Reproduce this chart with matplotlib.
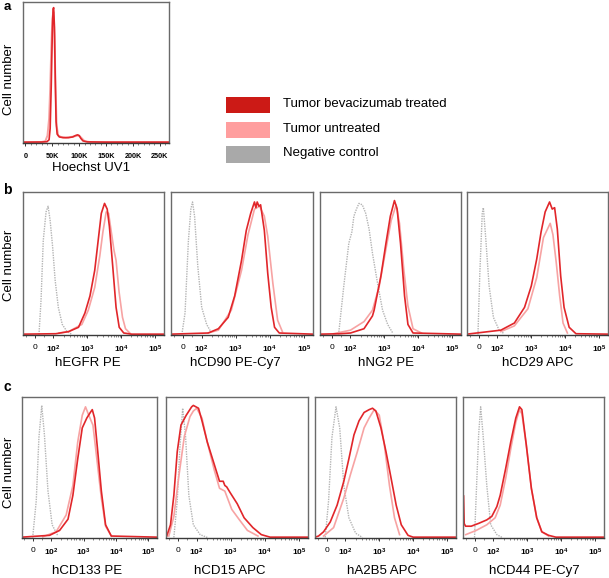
import matplotlib
matplotlib.use('Agg')
import matplotlib.pyplot as plt
from matplotlib.patches import Rectangle
from matplotlib.ticker import FixedLocator, FixedFormatter, NullFormatter

plt.rcParams['font.family'] = ['Liberation Sans', 'DejaVu Sans']
plt.rcParams['mathtext.fontset'] = 'custom'
plt.rcParams['mathtext.rm'] = 'Liberation Sans:bold'
plt.rcParams['mathtext.it'] = 'Liberation Sans:bold'
plt.rcParams['mathtext.bf'] = 'Liberation Sans:bold'

# ---------------- data ----------------
legend_labels = ['Tumor bevacizumab treated', 'Tumor untreated', 'Negative control']

# panel a: Hoechst UV1 (x in K)
hoechst_ticks = [0, 50, 100, 150, 200, 250]
hoechst_ticklabels = ['0', '50K', '100K', '150K', '200K', '250K']
hoechst_treated_x = [-5, 30, 40, 44, 46, 48, 50, 51.5, 52.5, 54, 55.5, 57, 59, 63, 70, 80, 88, 93, 97, 100, 103, 107, 115, 150, 267]
hoechst_treated_y = [0.003, 0.004, 0.006, 0.02, 0.1, 0.4, 0.78, 0.95, 0.96, 0.82, 0.45, 0.15, 0.06, 0.04, 0.035, 0.035, 0.04, 0.05, 0.055, 0.05, 0.03, 0.012, 0.005, 0.003, 0.003]
hoechst_untreated_x = [-5, 30, 37, 41, 44, 46, 48, 50, 52, 54, 56, 58, 61, 66, 75, 85, 92, 97, 101, 105, 110, 120, 267]
hoechst_untreated_y = [0.003, 0.004, 0.01, 0.05, 0.17, 0.38, 0.66, 0.88, 0.93, 0.76, 0.4, 0.12, 0.05, 0.04, 0.035, 0.04, 0.045, 0.05, 0.045, 0.03, 0.01, 0.004, 0.003]

# fluorescence axis
fluor_ticks = [0, 1e2, 1e3, 1e4, 1e5]
fluor_ticklabels = ['0', '$10^{2}$', '$10^{3}$', '$10^{4}$', '$10^{5}$']

# panel b
egfr_neg_x = [22, 33, 45, 60, 71, 82, 95, 112, 139, 182, 252, 355]
egfr_neg_y = [0, 0.24, 0.66, 0.86, 0.90, 0.80, 0.62, 0.38, 0.19, 0.07, 0.02, 0.0]
egfr_trt_x = [-64, 117, 282, 550, 850, 1200, 1660, 2100, 2600, 3240, 3880, 4500, 5650, 7100, 8800, 12000, 20000, 186000]
egfr_trt_y = [0.002, 0.005, 0.02, 0.05, 0.15, 0.27, 0.45, 0.66, 0.85, 0.92, 0.88, 0.76, 0.48, 0.19, 0.05, 0.01, 0.002, 0.002]
egfr_unt_x = [146, 282, 398, 690, 1070, 1660, 2340, 2900, 3630, 4270, 5130, 6170, 7100, 8700, 11000, 13500, 19000]
egfr_unt_y = [0.01, 0.02, 0.04, 0.07, 0.17, 0.33, 0.55, 0.72, 0.86, 0.85, 0.72, 0.59, 0.52, 0.30, 0.12, 0.04, 0.005]

cd90_neg_x = [-6, 11, 29, 42, 51, 62, 79, 100, 140, 195]
cd90_neg_y = [0, 0.15, 0.66, 0.88, 0.93, 0.83, 0.48, 0.19, 0.07, 0.01]
cd90_trt_x = [-64, 155, 309, 600, 930, 1480, 2040, 2750, 3550, 3900, 4270, 4800, 5370, 6920, 8700, 11000, 13800, 19000, 186000]
cd90_trt_y = [0.002, 0.01, 0.04, 0.12, 0.27, 0.52, 0.73, 0.85, 0.93, 0.89, 0.93, 0.90, 0.91, 0.73, 0.43, 0.19, 0.05, 0.01, 0.002]
cd90_unt_x = [155, 309, 740, 1480, 2290, 3550, 5010, 6920, 8700, 12300, 17000, 23400]
cd90_unt_y = [0.01, 0.03, 0.17, 0.45, 0.70, 0.88, 0.90, 0.83, 0.69, 0.36, 0.10, 0.02]

ng2_neg_x = [36, 64, 91, 110, 126, 150, 178, 224, 282, 355, 447, 631, 890, 1260, 1780]
ng2_neg_y = [0, 0.34, 0.64, 0.72, 0.83, 0.88, 0.92, 0.91, 0.85, 0.74, 0.57, 0.36, 0.17, 0.07, 0.01]
ng2_trt_x = [-64, 45, 100, 251, 447, 500, 794, 1120, 1510, 2000, 2400, 3020, 3980, 5010, 7080, 186000]
ng2_trt_y = [0.002, 0.005, 0.01, 0.04, 0.13, 0.17, 0.41, 0.64, 0.83, 0.94, 0.88, 0.64, 0.27, 0.07, 0.01, 0.002]
ng2_unt_x = [9, 100, 251, 447, 710, 1120, 1600, 2240, 2820, 3800, 5010, 7080, 12600]
ng2_unt_y = [0.005, 0.03, 0.09, 0.17, 0.34, 0.60, 0.80, 0.91, 0.78, 0.45, 0.20, 0.04, 0.01]

cd29_neg_x = [-5, 5, 18, 24, 36, 55, 78, 112, 158]
cd29_neg_y = [0, 0.43, 0.85, 0.89, 0.69, 0.34, 0.12, 0.03, 0.005]
cd29_trt_x = [-64, 126, 316, 631, 1000, 1450, 1950, 2570, 3470, 4170, 4900, 5890, 7410, 9330, 13200, 21000, 186000]
cd29_trt_y = [0.002, 0.03, 0.08, 0.19, 0.34, 0.53, 0.72, 0.86, 0.93, 0.88, 0.89, 0.74, 0.41, 0.19, 0.05, 0.005, 0.002]
cd29_unt_x = [126, 316, 794, 1450, 2290, 2880, 3630, 4370, 5500, 6920, 8700, 11700]
cd29_unt_y = [0.02, 0.06, 0.18, 0.40, 0.68, 0.73, 0.78, 0.70, 0.50, 0.27, 0.08, 0.01]

# panel c
cd133_neg_x = [-4, 16, 31, 47, 62, 82, 107, 162]
cd133_neg_y = [0, 0.26, 0.71, 0.94, 0.73, 0.33, 0.09, 0.01]
cd133_trt_x = [-64, 91, 182, 331, 468, 661, 912, 1260, 1620, 1860, 2190, 2750, 3550, 4790, 7200, 186000]
cd133_trt_y = [0.002, 0.015, 0.05, 0.13, 0.30, 0.56, 0.78, 0.85, 0.89, 0.91, 0.85, 0.61, 0.33, 0.09, 0.01, 0.002]
cd133_unt_x = [53, 142, 290, 468, 661, 912, 1150, 1450, 1950, 2570, 3550, 4790, 7200]
cd133_unt_y = [0.005, 0.04, 0.16, 0.37, 0.68, 0.87, 0.93, 0.87, 0.80, 0.56, 0.28, 0.08, 0.01]

cd15_neg_x = [-22, -4, 9, 25, 40, 58, 82, 126, 204]
cd15_neg_y = [0, 0.26, 0.61, 0.92, 0.73, 0.30, 0.09, 0.02, 0]
cd15_trt_x = [-60, -40, -22, -4, 16, 44, 73, 82, 113, 143, 204, 328, 468, 600, 670, 760, 955, 1550, 2470, 4470, 7900, 14300, 186000]
cd15_trt_y = [0.01, 0.09, 0.30, 0.61, 0.80, 0.87, 0.93, 0.94, 0.92, 0.83, 0.68, 0.52, 0.40, 0.40, 0.37, 0.36, 0.32, 0.24, 0.14, 0.07, 0.02, 0.002, 0.002]
cd15_unt_x = [-49, -22, 6, 34, 64, 82, 100, 143, 204, 328, 468, 670, 1070, 1740, 3090, 6310]
cd15_unt_y = [0.01, 0.15, 0.45, 0.72, 0.86, 0.90, 0.92, 0.85, 0.68, 0.48, 0.35, 0.33, 0.20, 0.13, 0.05, 0.01]

a2b5_neg_x = [-9, 9, 27, 49, 69, 91, 126, 200, 316]
a2b5_neg_y = [0, 0.26, 0.71, 0.93, 0.78, 0.37, 0.14, 0.03, 0]
a2b5_trt_x = [-64, -45, -18, 18, 55, 91, 126, 178, 251, 355, 501, 631, 794, 1120, 1580, 2240, 3160, 4470, 7080, 10000, 186000]
a2b5_trt_y = [0.002, 0.01, 0.04, 0.11, 0.23, 0.40, 0.56, 0.73, 0.83, 0.89, 0.91, 0.92, 0.90, 0.78, 0.61, 0.42, 0.23, 0.09, 0.015, 0.002, 0.002]
a2b5_unt_x = [-18, 36, 91, 141, 224, 355, 501, 708, 1000, 1410, 2000, 2820, 3980]
a2b5_unt_y = [0.01, 0.07, 0.28, 0.45, 0.61, 0.78, 0.85, 0.91, 0.87, 0.66, 0.37, 0.14, 0.02]

cd44_neg_x = [-2, 7, 20, 31, 44, 64, 85, 126, 180]
cd44_neg_y = [0, 0.30, 0.73, 0.93, 0.73, 0.37, 0.09, 0.02, 0]
cd44_trt_x = [-63, -62, -58, -50, -20, 20, 64, 91, 126, 158, 229, 324, 457, 589, 692, 933, 1320, 1900, 2690, 4270, 7000, 186000]
cd44_trt_y = [0.0, 0.30, 0.10, 0.08, 0.08, 0.10, 0.125, 0.15, 0.22, 0.30, 0.49, 0.68, 0.85, 0.93, 0.91, 0.66, 0.35, 0.14, 0.04, 0.015, 0.002, 0.002]
cd44_unt_x = [-49, 7, 64, 112, 158, 229, 324, 457, 589, 692, 933, 1320, 1900, 2690, 4270]
cd44_unt_y = [0.02, 0.05, 0.09, 0.14, 0.23, 0.42, 0.63, 0.82, 0.91, 0.88, 0.66, 0.35, 0.14, 0.04, 0.01]

marker_labels_b = ['hEGFR PE', 'hCD90 PE-Cy7', 'hNG2 PE', 'hCD29 APC']
marker_labels_c = ['hCD133 PE', 'hCD15 APC', 'hA2B5 APC', 'hCD44 PE-Cy7']

# ---------------- style ----------------
RED = '#e1262a'
PINK = '#f7a3a3'
GRAY = '#b4b4b4'
LEG_COLORS = ['#cc1a16', '#ff9e9e', '#a9a9a9']
FRAME = '#6a6a6a'

W, H = 609, 578
fig = plt.figure(figsize=(W / 100, H / 100), dpi=100)


def add_ax(x0, x1, y0, y1):
    return fig.add_axes([x0 / W, 1 - y1 / H, (x1 - x0) / W, (y1 - y0) / H])


def style_frame(ax):
    for s in ax.spines.values():
        s.set_color(FRAME)
        s.set_linewidth(1.0)
    ax.spines['bottom'].set_color('#3a3a3a')
    ax.set_yticks([])
    ax.tick_params(axis='x', which='major', direction='out', length=2.5, width=0.7,
                   color='#333333', labelsize=6, pad=4)
    ax.tick_params(axis='x', which='minor', direction='out', length=1.5, width=0.5,
                   color='#555555')


# panel a
ax = add_ax(23, 169, 2, 143)
ax.plot(hoechst_untreated_x, hoechst_untreated_y, color=PINK, lw=1.4)
ax.plot(hoechst_treated_x, hoechst_treated_y, color=RED, lw=1.2)
ax.set_xlim(-4.5, 267)
ax.set_ylim(-0.003, 1.0)
style_frame(ax)
ax.xaxis.set_major_locator(FixedLocator(hoechst_ticks))
ax.xaxis.set_major_formatter(FixedFormatter(hoechst_ticklabels))
ax.xaxis.set_minor_locator(FixedLocator([v for v in range(0, 261, 10)]))
ax.tick_params(axis='x', labelsize=5.2, pad=5)
for lab in ax.get_xticklabels():
    lab.set_fontweight('bold')

fig.text(4 / W, 1 - 1 / H, 'a', fontsize=9.5, fontweight='bold', va='top', ha='left')
fig.text(9.5 / W, 1 - 79 / H, 'Cell number', fontsize=9.5, rotation=90, va='center', ha='center')
fig.text(91 / W, 1 - 168 / H, 'Hoechst UV1', fontsize=9.5, va='center', ha='center')

# legend
leg_rows = [(97, 113, 104), (122, 138, 129), (146, 163, 153)]
for (y0, y1, yc), col, lab in zip(leg_rows, LEG_COLORS, legend_labels):
    fig.patches.append(Rectangle((226 / W, 1 - y1 / H), 44 / W, (y1 - y0) / H,
                                 transform=fig.transFigure, facecolor=col, edgecolor='none'))
    fig.text(283 / W, 1 - yc / H, lab, fontsize=9.5, va='center', ha='left')

minor_fluor = [-50, 50] + [k * 10 ** d for d in (2, 3, 4) for k in range(2, 10)]


def fluor_panel(box, neg, unt, trt):
    ax = add_ax(*box)
    ax.plot(neg[0], neg[1], color=GRAY, lw=1.0, ls=(0, (1, 0.8)))
    ax.plot(unt[0], unt[1], color=PINK, lw=1.2)
    ax.plot(trt[0], trt[1], color=RED, lw=1.2)
    ax.set_xscale('symlog', linthresh=100, linscale=0.495)
    ax.set_xlim(-64, 186000)
    ax.set_ylim(-0.004, 1.0)
    style_frame(ax)
    ax.xaxis.set_major_locator(FixedLocator(fluor_ticks))
    ax.xaxis.set_major_formatter(FixedFormatter(fluor_ticklabels))
    ax.xaxis.set_minor_locator(FixedLocator(minor_fluor))
    ax.xaxis.set_minor_formatter(NullFormatter())
    return ax


b_boxes = [(23, 164, 192, 335), (171, 313, 192, 335), (320, 461, 192, 335), (467, 608, 192, 335)]
b_data = [
    ((egfr_neg_x, egfr_neg_y), (egfr_unt_x, egfr_unt_y), (egfr_trt_x, egfr_trt_y)),
    ((cd90_neg_x, cd90_neg_y), (cd90_unt_x, cd90_unt_y), (cd90_trt_x, cd90_trt_y)),
    ((ng2_neg_x, ng2_neg_y), (ng2_unt_x, ng2_unt_y), (ng2_trt_x, ng2_trt_y)),
    ((cd29_neg_x, cd29_neg_y), (cd29_unt_x, cd29_unt_y), (cd29_trt_x, cd29_trt_y)),
]
b_label_x = [88, 235, 386, 538]
for box, d, lab, lx in zip(b_boxes, b_data, marker_labels_b, b_label_x):
    fluor_panel(box, *d)
    fig.text(lx / W, 1 - 363 / H, lab, fontsize=9.5, va='center', ha='center')

fig.text(3 / W, 1 - 190 / H, 'b', fontsize=10, fontweight='bold', va='center', ha='left')
fig.text(9 / W, 1 - 265 / H, 'Cell number', fontsize=9.5, rotation=90, va='center', ha='center')

c_boxes = [(22, 157, 397, 538), (166, 308, 397, 538), (315, 456, 397, 538), (463, 604, 397, 538)]
c_data = [
    ((cd133_neg_x, cd133_neg_y), (cd133_unt_x, cd133_unt_y), (cd133_trt_x, cd133_trt_y)),
    ((cd15_neg_x, cd15_neg_y), (cd15_unt_x, cd15_unt_y), (cd15_trt_x, cd15_trt_y)),
    ((a2b5_neg_x, a2b5_neg_y), (a2b5_unt_x, a2b5_unt_y), (a2b5_trt_x, a2b5_trt_y)),
    ((cd44_neg_x, cd44_neg_y), (cd44_unt_x, cd44_unt_y), (cd44_trt_x, cd44_trt_y)),
]
c_label_x = [87, 230, 382, 534]
for box, d, lab, lx in zip(c_boxes, c_data, marker_labels_c, c_label_x):
    fluor_panel(box, *d)
    fig.text(lx / W, 1 - 571 / H, lab, fontsize=9.5, va='center', ha='center')

fig.text(3 / W, 1 - 387 / H, 'c', fontsize=10, fontweight='bold', va='center', ha='left')
fig.text(9 / W, 1 - 472 / H, 'Cell number', fontsize=9.5, rotation=90, va='center', ha='center')

fig.savefig('out.png', dpi=100)
